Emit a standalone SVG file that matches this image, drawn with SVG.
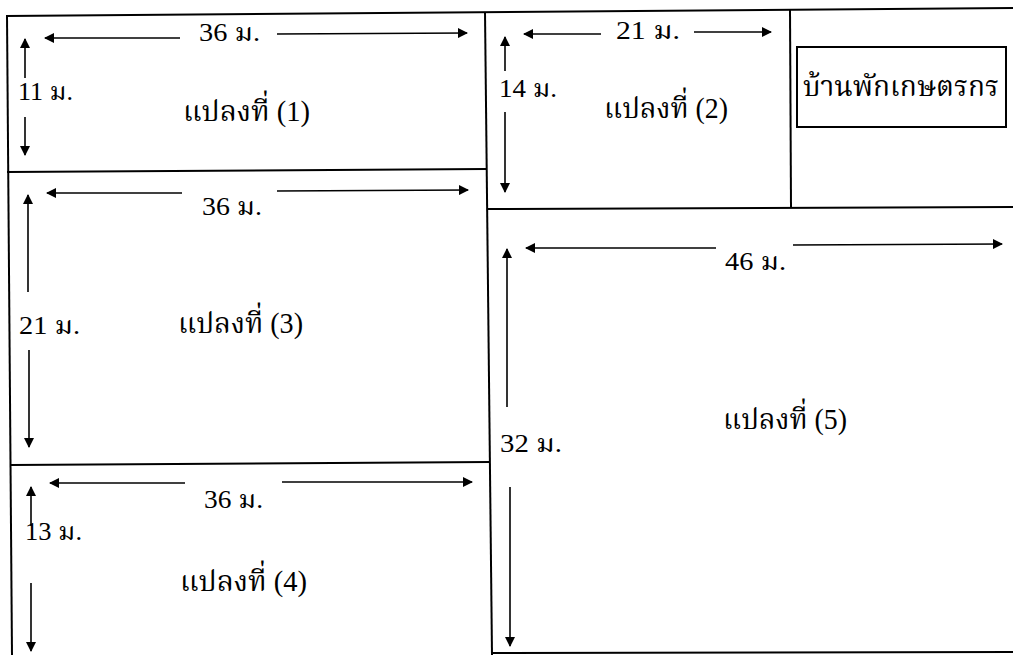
<svg xmlns="http://www.w3.org/2000/svg" width="1013" height="655" viewBox="0 0 1013 655">
<defs>
<marker id="ah" viewBox="0 0 10 10" refX="9" refY="5" markerWidth="10" markerHeight="10" markerUnits="userSpaceOnUse" orient="auto">
<path d="M0,0 L10,5 L0,10 z" fill="#000"/>
</marker>
</defs>
<style>
.b{stroke:#000;stroke-width:2;fill:none}
.a{stroke:#000;stroke-width:1.6;fill:none;marker-end:url(#ah)}
text{font-family:"Liberation Serif","Noto Serif Thai","Noto Sans Thai","DejaVu Serif",serif;fill:#000}
.dim{font-size:25px}
.lab{font-size:29px}
</style>
<rect width="1013" height="655" fill="#fff"/>
<g id="borders">
<line class="b" x1="6" y1="16" x2="1013" y2="8"/>
<line class="b" x1="7" y1="16" x2="12" y2="655"/>
<line class="b" x1="485" y1="12" x2="492" y2="655"/>
<line class="b" x1="7" y1="172" x2="486" y2="169"/>
<line class="b" x1="11" y1="465" x2="490" y2="462"/>
<line class="b" x1="790" y1="10" x2="791" y2="208"/>
<line class="b" x1="487" y1="209" x2="1013" y2="207"/>
<line class="b" x1="491" y1="653" x2="1013" y2="652"/>
</g>
<g id="plot1">
<text class="lab" x="183" y="121" textLength="127" lengthAdjust="spacingAndGlyphs">แปลงที่ (1)</text>
</g>
<g id="plot2">
<text class="lab" x="604" y="118" textLength="124" lengthAdjust="spacingAndGlyphs">แปลงที่ (2)</text>
</g>
<g id="farmhouse">
<rect class="b" x="797" y="47" width="209" height="80"/>
<text class="lab" x="803" y="96" textLength="196" lengthAdjust="spacingAndGlyphs">บ้านพักเกษตรกร</text>
</g>
<g id="plot3">
<text class="lab" x="178" y="333" textLength="125" lengthAdjust="spacingAndGlyphs">แปลงที่ (3)</text>
</g>
<g id="plot4">
<text class="lab" x="180" y="591" textLength="127" lengthAdjust="spacingAndGlyphs">แปลงที่ (4)</text>
</g>
<g id="plot5">
<text class="lab" x="723" y="429" textLength="124" lengthAdjust="spacingAndGlyphs">แปลงที่ (5)</text>
</g>
<g id="dimensions">
<line class="a" x1="180" y1="38" x2="45" y2="38"/>
<line class="a" x1="277" y1="34" x2="467" y2="33"/>
<text class="dim" x="199" y="41" textLength="61" lengthAdjust="spacingAndGlyphs">36 ม.</text>
<line class="a" x1="25" y1="78" x2="25" y2="39"/>
<line class="a" x1="25" y1="117" x2="25" y2="155"/>
<text class="dim" x="18" y="100" textLength="55" lengthAdjust="spacingAndGlyphs">11 ม.</text>

<line class="a" x1="601" y1="34" x2="524" y2="34"/>
<line class="a" x1="694" y1="32" x2="771" y2="32"/>
<text class="dim" x="616" y="39" textLength="64" lengthAdjust="spacingAndGlyphs">21 ม.</text>
<line class="a" x1="505" y1="71" x2="505" y2="37"/>
<line class="a" x1="505" y1="112" x2="505" y2="192"/>
<text class="dim" x="499" y="97" textLength="58" lengthAdjust="spacingAndGlyphs">14 ม.</text>

<line class="a" x1="182" y1="193" x2="47" y2="193"/>
<line class="a" x1="277" y1="191" x2="468" y2="190"/>
<text class="dim" x="202" y="215" textLength="60" lengthAdjust="spacingAndGlyphs">36 ม.</text>
<line class="a" x1="28" y1="292" x2="28" y2="195"/>
<line class="a" x1="29" y1="350" x2="29" y2="447"/>
<text class="dim" x="19" y="334" textLength="61" lengthAdjust="spacingAndGlyphs">21 ม.</text>

<line class="a" x1="185" y1="483" x2="50" y2="483"/>
<line class="a" x1="282" y1="482" x2="472" y2="482"/>
<text class="dim" x="204" y="508" textLength="59" lengthAdjust="spacingAndGlyphs">36 ม.</text>
<line class="a" x1="31" y1="526" x2="31" y2="487"/>
<line class="a" x1="31" y1="583" x2="31" y2="651"/>
<text class="dim" x="25" y="540" textLength="57" lengthAdjust="spacingAndGlyphs">13 ม.</text>

<line class="a" x1="716" y1="248" x2="526" y2="248"/>
<line class="a" x1="793" y1="245" x2="1002" y2="244"/>
<text class="dim" x="725" y="270" textLength="61" lengthAdjust="spacingAndGlyphs">46 ม.</text>
<line class="a" x1="507" y1="407" x2="507" y2="249"/>
<line class="a" x1="510" y1="487" x2="510" y2="646"/>
<text class="dim" x="500" y="452" textLength="62" lengthAdjust="spacingAndGlyphs">32 ม.</text>
</g>
</svg>
